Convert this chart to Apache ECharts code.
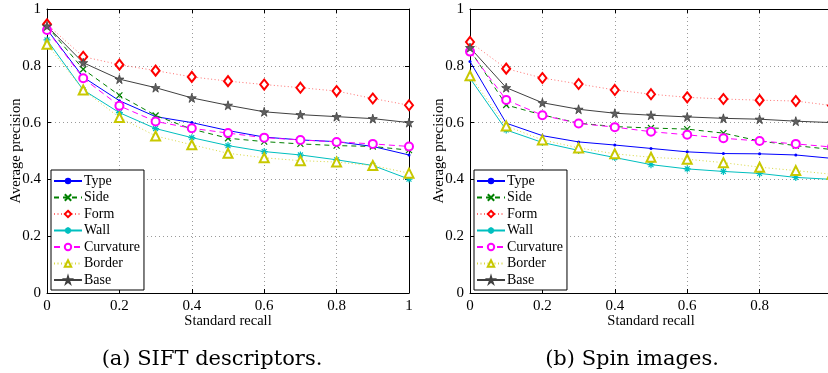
<!DOCTYPE html>
<html>
<head>
<meta charset="utf-8">
<script src="https://cdn.jsdelivr.net/npm/echarts@6/dist/echarts.min.js"></script>
<style>
html,body{margin:0;padding:0;background:#fff;overflow:hidden;}
#chart{width:840px;height:373px;}
</style>
</head>
<body>
<div id="chart"></div>
<script>
// ---------- data ----------
const recall = [0, 0.1, 0.2, 0.3, 0.4, 0.5, 0.6, 0.7, 0.8, 0.9, 1];
const axisTicks = [0, 0.2, 0.4, 0.6, 0.8, 1];
const seriesNames = ['Type', 'Side', 'Form', 'Wall', 'Curvature', 'Border', 'Base'];

// (a) SIFT descriptors
const siftType      = [0.928, 0.760, 0.677, 0.621, 0.600, 0.572, 0.549, 0.539, 0.533, 0.516, 0.486];
const siftSide      = [0.940, 0.788, 0.696, 0.625, 0.577, 0.545, 0.533, 0.525, 0.519, 0.516, 0.503];
const siftForm      = [0.946, 0.832, 0.804, 0.783, 0.761, 0.746, 0.734, 0.723, 0.711, 0.685, 0.661];
const siftWall      = [0.891, 0.715, 0.635, 0.579, 0.547, 0.519, 0.498, 0.486, 0.469, 0.449, 0.401];
const siftCurvature = [0.926, 0.756, 0.659, 0.604, 0.580, 0.563, 0.547, 0.539, 0.532, 0.525, 0.516];
const siftBorder    = [0.876, 0.715, 0.618, 0.553, 0.522, 0.492, 0.476, 0.466, 0.461, 0.449, 0.422];
const siftBase      = [0.940, 0.811, 0.753, 0.723, 0.687, 0.661, 0.638, 0.628, 0.621, 0.614, 0.600];

// (b) Spin images
const spinType      = [0.815, 0.598, 0.554, 0.532, 0.521, 0.509, 0.497, 0.491, 0.490, 0.486, 0.474];
const spinSide      = [0.856, 0.662, 0.627, 0.598, 0.586, 0.581, 0.577, 0.563, 0.535, 0.519, 0.505];
const spinForm      = [0.884, 0.790, 0.757, 0.736, 0.715, 0.700, 0.689, 0.683, 0.679, 0.676, 0.660];
const spinWall      = [0.756, 0.574, 0.530, 0.502, 0.477, 0.452, 0.437, 0.428, 0.421, 0.407, 0.400];
const spinCurvature = [0.850, 0.680, 0.626, 0.597, 0.584, 0.568, 0.557, 0.545, 0.535, 0.525, 0.514];
const spinBorder    = [0.765, 0.588, 0.539, 0.511, 0.490, 0.478, 0.471, 0.459, 0.443, 0.431, 0.418];
const spinBase      = [0.864, 0.723, 0.670, 0.647, 0.633, 0.626, 0.620, 0.615, 0.612, 0.605, 0.600];

const captions = ['(a) SIFT descriptors.', '(b) Spin images.'];
const xName = 'Standard recall';
const yName = 'Average precision';

// ---------- styles ----------
const FONT = '"Liberation Serif", "Times New Roman", serif';
const STAR = 'path://M50,0 L61,35 L98,35 L68,57 L79,91 L50,70 L21,91 L32,57 L2,35 L39,35 Z';
const XMARK = 'path://M0,0 L10,10 M10,0 L0,10';
const ASTER = 'path://M5,0 L5,10 M0,5 L10,5 M1.5,1.5 L8.5,8.5 M8.5,1.5 L1.5,8.5';
const styles = {
  Type:      {color: '#0000ff', type: 'solid',  symbol: 'circle', size: 3, fill: '#0000ff', bw: 0},
  Side:      {color: '#008000', type: [5, 4],   symbol: XMARK, size: 6, fill: 'rgba(0,0,0,0)', bw: 1.2},
  Form:      {color: '#ff0000', type: [1, 2.5], symbol: 'emptyDiamond', size: [8, 10], fill: null, bw: 1.2, lineColor: '#ff7070'},
  Wall:      {color: '#00bfbf', type: 'solid',  symbol: ASTER, size: 7, fill: 'rgba(0,0,0,0)', bw: 1.2},
  Curvature: {color: '#ff00ff', type: [6, 4],   symbol: 'emptyCircle', size: 8, fill: null, bw: 1.2},
  Border:    {color: '#c8c800', type: [1, 2.5], symbol: 'emptyTriangle', size: 9, fill: null, bw: 1.2, lineColor: '#d8d840'},
  Base:      {color: '#404040', type: 'solid',  symbol: STAR, size: 9, fill: '#606060', bw: 0.8}
};

const siftData = [siftType, siftSide, siftForm, siftWall, siftCurvature, siftBorder, siftBase];
const spinData = [spinType, spinSide, spinForm, spinWall, spinCurvature, spinBorder, spinBase];

function makeSeries(values, name, gridIdx) {
  const s = styles[name];
  const item = s.fill === null
    ? {color: s.color, borderWidth: s.bw}
    : {color: s.fill, borderColor: s.color, borderWidth: s.bw};
  return {
    type: 'line',
    name: name,
    xAxisIndex: gridIdx * 2,
    yAxisIndex: gridIdx * 2,
    data: recall.map((r, i) => [r, values[i]]),
    symbol: s.symbol,
    symbolSize: s.size,
    showAllSymbol: true,
    lineStyle: {color: s.lineColor || s.color, width: 1, type: s.type},
    itemStyle: item,
    emphasis: {disabled: true},
    silent: true,
    z: 3
  };
}

const grids = [
  {left: 47, top: 9, width: 362, height: 284},
  {left: 470, top: 9, width: 362, height: 284}
];

function axesFor(gridIdx) {
  const tickLabel = {fontFamily: FONT, fontSize: 15, color: '#000', margin: 6};
  const common = {
    type: 'value', min: 0, max: 1, interval: 0.2, gridIndex: gridIdx,
    axisLine: {show: true, onZero: false, lineStyle: {color: '#000', width: 1}},
    axisTick: {show: true, inside: true, length: 4, lineStyle: {color: '#000'}},
  };
  const xs = [
    Object.assign({}, common, {
      position: 'bottom',
      name: xName, nameLocation: 'middle', nameGap: 21, nameMoveOverlap: false,
      nameTextStyle: {fontFamily: FONT, fontSize: 14.5, color: '#000'},
      axisLabel: Object.assign({}, tickLabel, {formatter: v => String(+v.toFixed(1))}),
      splitLine: {show: true, lineStyle: {color: '#9a9a9a', type: [1, 3], width: 1}}
    }),
    Object.assign({}, common, {position: 'top', axisLabel: {show: false}, splitLine: {show: false}})
  ];
  const ys = [
    Object.assign({}, common, {
      position: 'left',
      name: yName, nameLocation: 'middle', nameGap: 23, nameRotate: 90, nameMoveOverlap: false,
      nameTextStyle: {fontFamily: FONT, fontSize: 14.5, color: '#000'},
      axisLabel: Object.assign({}, tickLabel, {formatter: v => String(+v.toFixed(1))}),
      splitLine: {show: true, lineStyle: {color: '#9a9a9a', type: [1, 3], width: 1}}
    }),
    Object.assign({}, common, {position: 'right', axisLabel: {show: false}, splitLine: {show: false}})
  ];
  return {xs, ys};
}

const a0 = axesFor(0), a1 = axesFor(1);

function legendFor(left) {
  return {
    orient: 'vertical', left: left, top: 170,
    data: seriesNames,
    backgroundColor: '#fff',
    borderColor: '#000', borderWidth: 1, borderRadius: 0,
    padding: [4, 4, 3, 2],
    itemWidth: 28, itemHeight: 8, itemGap: 2.5,
    textStyle: {fontFamily: FONT, fontSize: 14, color: '#000', padding: [0, 0, 0, -3]},
    selectedMode: false,
    z: 10
  };
}

const option = {
  animation: false,
  backgroundColor: '#fff',
  grid: grids.map(g => Object.assign({show: false, containLabel: false}, g)),
  xAxis: [a0.xs[0], a0.xs[1], a1.xs[0], a1.xs[1]],
  yAxis: [a0.ys[0], a0.ys[1], a1.ys[0], a1.ys[1]],
  legend: [legendFor(51), legendFor(474)],
  title: [
    {text: captions[0], left: 207, top: 344, textAlign: 'center',
     textStyle: {fontFamily: '"DejaVu Serif", serif', fontWeight: 'normal', fontSize: 21, color: '#000'}},
    {text: captions[1], left: 627, top: 344, textAlign: 'center',
     textStyle: {fontFamily: '"DejaVu Serif", serif', fontWeight: 'normal', fontSize: 21, color: '#000'}}
  ],
  series: [
    ...seriesNames.map((n, i) => makeSeries(siftData[i], n, 0)),
    ...seriesNames.map((n, i) => makeSeries(spinData[i], n, 1))
  ]
};
option.xAxis[1].gridIndex = 0; option.xAxis[3].gridIndex = 1;
option.yAxis[1].gridIndex = 0; option.yAxis[3].gridIndex = 1;

const chart = echarts.init(document.getElementById('chart'), null, {renderer: 'canvas'});
chart.setOption(option);
</script>
</body>
</html>
